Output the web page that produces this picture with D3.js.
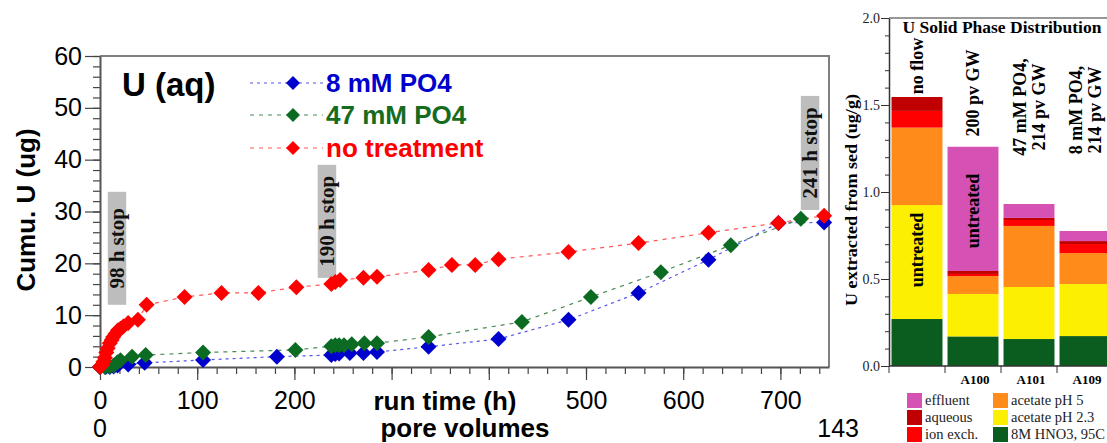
<!DOCTYPE html>
<html>
<head>
<meta charset="utf-8">
<script src="https://cdn.jsdelivr.net/npm/d3@7"></script>
<style>
  body { margin: 0; background: #fff; }
  svg { display: block; }
</style>
</head>
<body>
<div id="vis"></div>
<script>
// ---- left chart data: cumulative U (ug) vs run time (h)
var blueTime = [0, 6, 10, 14, 18, 29, 46, 106, 182, 238, 242, 246, 257, 271, 285, 338, 410, 482, 554, 626, 698, 745];
var blueU    = [0, 0, 0, 0.1, 0.3, 0.5, 0.8, 1.35, 2.0, 2.3, 2.5, 2.6, 2.7, 2.7, 2.9, 3.9, 5.4, 9.1, 14.3, 20.7, 27.8, 27.9];

var greenTime = [0, 5, 10, 14, 18, 21, 33, 47, 106, 201, 238, 242, 246, 251, 259, 272, 285, 338, 434, 505, 577, 649, 721];
var greenU    = [0, 0, 0.1, 0.3, 0.9, 1.3, 2.0, 2.3, 2.8, 3.3, 4.0, 4.2, 4.2, 4.2, 4.4, 4.6, 4.6, 5.8, 8.7, 13.5, 18.3, 23.5, 28.6];

var redTime = [0, 2, 3.5, 5, 6.5, 8, 10, 12, 13.5, 16, 18.5, 21, 24, 29, 39, 48, 87, 125, 163, 202, 238, 242, 247, 271, 285, 338, 362, 386, 410, 482, 554, 626, 698, 745];
var redU    = [0, 0.4, 1, 1.8, 2.8, 3.6, 4.6, 5.2, 5.8, 6.4, 7.1, 7.4, 7.8, 8.5, 9.1, 12.0, 13.5, 14.3, 14.3, 15.4, 16.0, 16.4, 16.8, 17.2, 17.4, 18.7, 19.7, 19.7, 20.8, 22.2, 23.9, 25.9, 27.8, 29.2];

var seriesNames = ["8 mM PO4", "47 mM PO4", "no treatment"];
var xTicks = [0, 100, 200, 300, 400, 500, 600, 700];
var yTicks = [0, 10, 20, 30, 40, 50, 60];

// stop annotations (h range, U range of grey box)
var stopLabels = ["98 h stop", "190 h stop", "241 h stop"];
var stopH = [[8, 27], [224, 243], [721, 740]];
var stopU = [[12, 33.8], [17.2, 39], [30.3, 52.3]];

// ---- right chart data: U solid phase distribution (ug/g)
var samples = ["no flow", "A100", "A101", "A109"];
var phases = ["8M HNO3, 95C", "acetate pH 2.3", "acetate pH 5", "ion exch.", "aqueous", "effluent"];
var hno3     = [0.27, 0.17, 0.155, 0.172];
var acet23   = [0.655, 0.244, 0.299, 0.299];
var acet5    = [0.445, 0.103, 0.351, 0.178];
var ionExch  = [0.096, 0.012, 0.034, 0.052];
var aqueous  = [0.08, 0.017, 0.012, 0.017];
var effluent = [0, 0.714, 0.08, 0.058];
var headers = [["no flow"], ["200 pv GW"], ["47 mM PO4,", "214 pv GW"], ["8 mM PO4,", "214 pv GW"]];
var catLabels = ["", "A100", "A101", "A109"];

var svg = d3.select("#vis").append("svg")
    .attr("width", 1107)
    .attr("height", 443);

var sans = "'Liberation Sans', Arial, sans-serif";
var serif = "'Liberation Serif', 'Times New Roman', serif";

// ================= left chart =================
var x = d3.scaleLinear().domain([0, 750]).range([100, 829]);
var y = d3.scaleLinear().domain([0, 60]).range([367, 56]);

// frame top/right
svg.append("path")
    .attr("d", "M100,56H829V367")
    .attr("fill", "none").attr("stroke", "#808080").attr("stroke-width", 2);

// y axis minor + major
svg.append("g").attr("transform", "translate(100,0)")
    .call(d3.axisLeft(y).tickValues(d3.range(0, 61, 2)).tickSize(7).tickFormat(""))
    .call(g => g.select(".domain").remove())
    .selectAll("line").attr("stroke", "#444").attr("stroke-width", 1.2);
var ya = svg.append("g").attr("transform", "translate(100,0)")
    .call(d3.axisLeft(y).tickValues(yTicks).tickSize(15).tickSizeOuter(0).tickPadding(3));
ya.select(".domain").attr("stroke", "#555").attr("stroke-width", 2);
ya.selectAll("line").attr("stroke", "#444").attr("stroke-width", 1.2);
ya.selectAll("text").attr("font-family", sans).attr("font-size", 25).attr("fill", "#000");

// x axis minor + major
svg.append("g").attr("transform", "translate(0,367)")
    .call(d3.axisBottom(x).tickValues(d3.range(0, 741, 20)).tickSize(7).tickFormat(""))
    .call(g => g.select(".domain").remove())
    .selectAll("line").attr("stroke", "#444").attr("stroke-width", 1.2);
var xa = svg.append("g").attr("transform", "translate(0,367)")
    .call(d3.axisBottom(x).tickValues(xTicks).tickSize(13).tickSizeOuter(0).tickPadding(11)
      .tickFormat(d => (d == 300 || d == 400) ? "" : d));
xa.select(".domain").attr("stroke", "#555").attr("stroke-width", 2);
xa.selectAll("line").attr("stroke", "#444").attr("stroke-width", 1.2);
xa.selectAll("text").attr("font-family", sans).attr("font-size", 25).attr("fill", "#000");

// axis titles
svg.append("text")
    .attr("transform", "translate(35,210) rotate(-90)")
    .attr("text-anchor", "middle")
    .attr("font-family", sans).attr("font-weight", "bold").attr("font-size", 26)
    .text("Cumu. U (ug)");
svg.append("text").attr("x", 445).attr("y", 410).attr("text-anchor", "middle")
    .attr("font-family", sans).attr("font-weight", "bold").attr("font-size", 26)
    .text("run time (h)");
svg.append("text").attr("x", 465).attr("y", 437).attr("text-anchor", "middle")
    .attr("font-family", sans).attr("font-weight", "bold").attr("font-size", 26)
    .text("pore volumes");
svg.append("text").attr("x", x(0)).attr("y", 437).attr("text-anchor", "middle")
    .attr("font-family", sans).attr("font-size", 25).text("0");
svg.append("text").attr("x", 859).attr("y", 437).attr("text-anchor", "end")
    .attr("font-family", sans).attr("font-size", 25).text("143");

svg.append("text").attr("x", 122).attr("y", 96)
    .attr("font-family", sans).attr("font-weight", "bold").attr("font-size", 33)
    .text("U (aq)");

// stop boxes
stopLabels.forEach(function(lab, i) {
  var x0 = x(stopH[i][0]), x1 = x(stopH[i][1]);
  var y0 = y(stopU[i][1]), y1 = y(stopU[i][0]);
  svg.append("rect").attr("x", x0).attr("y", y0)
      .attr("width", x1 - x0).attr("height", y1 - y0).attr("fill", "#bdbdbd");
  svg.append("text")
      .attr("transform", "translate(" + ((x0 + x1) / 2 + 7) + "," + ((y0 + y1) / 2) + ") rotate(-90)")
      .attr("text-anchor", "middle")
      .attr("font-family", serif).attr("font-weight", "bold").attr("font-size", 21)
      .attr("fill", "#111")
      .text(lab);
});

// series
var diamond = function(r) { return "M0," + (-r) + "L" + r + ",0L0," + r + "L" + (-r) + ",0Z"; };
var series = [
  {t: blueTime, u: blueU, fill: "#0000cc", line: "#5555ee", dash: "3,4"},
  {t: greenTime, u: greenU, fill: "#0b6b22", line: "#4a8a55", dash: "4,5"},
  {t: redTime, u: redU, fill: "#ff0000", line: "#ff5555", dash: "4,5"}
];
var line = d3.line().x(d => x(d[0])).y(d => y(d[1]));
series.forEach(function(s) {
  var pts = s.t.map((t, i) => [t, s.u[i]]);
  svg.append("path").datum(pts).attr("d", line)
      .attr("fill", "none").attr("stroke", s.line).attr("stroke-width", 1.2)
      .attr("stroke-dasharray", s.dash);
});
series.forEach(function(s) {
  var pts = s.t.map((t, i) => [t, s.u[i]]);
  svg.append("g").selectAll("path").data(pts).enter().append("path")
      .attr("transform", d => "translate(" + x(d[0]) + "," + y(d[1]) + ")")
      .attr("d", diamond(8))
      .attr("fill", s.fill);
});

// legend
var legY = [83, 115, 148];
var legText = ["#0000cc", "#156b1e", "#ff0000"];
seriesNames.forEach(function(n, i) {
  var s = series[i];
  svg.append("line").attr("x1", 250).attr("x2", 323).attr("y1", legY[i]).attr("y2", legY[i])
      .attr("stroke", s.line).attr("stroke-width", 1.2).attr("stroke-dasharray", s.dash);
  svg.append("path").attr("transform", "translate(293," + legY[i] + ")")
      .attr("d", diamond(7)).attr("fill", s.fill);
  svg.append("text").attr("x", 326).attr("y", legY[i] + 9)
      .attr("font-family", sans).attr("font-weight", "bold").attr("font-size", 26)
      .attr("fill", legText[i]).text(n);
});

// ================= right chart =================
var y2 = d3.scaleLinear().domain([0, 2]).range([366, 18]);
var xb = d3.scaleBand().domain(samples).range([889, 1113]).paddingInner(0.09).paddingOuter(0.045);
var colors = ["#0a5c1f", "#fcef00", "#ff8c1a", "#ff0000", "#c00000", "#d651b4"];

var rows = samples.map(function(s, i) {
  return {sample: s, "8M HNO3, 95C": hno3[i], "acetate pH 2.3": acet23[i], "acetate pH 5": acet5[i],
          "ion exch.": ionExch[i], "aqueous": aqueous[i], "effluent": effluent[i]};
});
var stacked = d3.stack().keys(phases)(rows);

stacked.forEach(function(layer, k) {
  svg.append("g").selectAll("rect").data(layer).enter().append("rect")
      .attr("x", d => xb(d.data.sample))
      .attr("width", xb.bandwidth())
      .attr("y", d => y2(d[1]))
      .attr("height", d => y2(d[0]) - y2(d[1]))
      .attr("fill", colors[k]);
});

svg.append("line").attr("x1", 889).attr("x2", 1107).attr("y1", 18).attr("y2", 18)
    .attr("stroke", "#333").attr("stroke-width", 1.2);

svg.append("g").attr("transform", "translate(889,0)")
    .call(d3.axisLeft(y2).tickValues(d3.range(0, 2.01, 0.1)).tickSize(4).tickFormat(""))
    .call(g => g.select(".domain").remove())
    .selectAll("line").attr("stroke", "#333");
var ya2 = svg.append("g").attr("transform", "translate(889,0)")
    .call(d3.axisLeft(y2).tickValues([0, 0.5, 1, 1.5, 2]).tickSize(8).tickSizeOuter(0).tickPadding(1)
      .tickFormat(d3.format(".1f")));
ya2.select(".domain").attr("stroke", "#333").attr("stroke-width", 1.5);
ya2.selectAll("line").attr("stroke", "#333");
ya2.selectAll("text").attr("font-family", serif).attr("font-size", 14).attr("fill", "#222");

// category axis
var xa2 = svg.append("g").attr("transform", "translate(0,366)");
xa2.append("line").attr("x1", 889).attr("x2", 1107).attr("stroke", "#333").attr("stroke-width", 1.5);
samples.forEach(function(s, i) {
  var gx = xb(s) - xb.step() * xb.paddingInner() / 2;
  xa2.append("line").attr("x1", gx).attr("x2", gx).attr("y1", 0).attr("y2", 7).attr("stroke", "#333");
  xa2.append("text").attr("x", xb(s) + xb.bandwidth() / 2 + 2).attr("y", 18)
      .attr("text-anchor", "middle").attr("font-family", serif).attr("font-weight", "bold")
      .attr("font-size", 13).text(catLabels[i]);
});

svg.append("text")
    .attr("transform", "translate(857,200) rotate(-90)")
    .attr("text-anchor", "middle")
    .attr("font-family", serif).attr("font-weight", "bold").attr("font-size", 16)
    .attr("textLength", 212).attr("lengthAdjust", "spacingAndGlyphs")
    .text("U extracted from sed (ug/g)");

svg.append("text").attr("x", 1002).attr("y", 33).attr("text-anchor", "middle")
    .attr("font-family", serif).attr("font-weight", "bold").attr("font-size", 17.5)
    .text("U Solid Phase Distribution");

// column headers
var headCy = [66, 93, 107, 110];
headers.forEach(function(lines, i) {
  var cx = xb(samples[i]) + xb.bandwidth() / 2;
  lines.forEach(function(t, j) {
    var off = (j - (lines.length - 1) / 2) * 19;
    svg.append("text")
        .attr("transform", "translate(" + (cx + off + 6) + "," + headCy[i] + ") rotate(-90)")
        .attr("text-anchor", "middle")
        .attr("font-family", serif).attr("font-weight", "bold").attr("font-size", 18)
        .text(t);
  });
});

// "untreated" labels
var untreatedCy = [250, 211];
untreatedCy.forEach(function(cy, i) {
  var cx = xb(samples[i]) + xb.bandwidth() / 2;
  svg.append("text")
      .attr("transform", "translate(" + (cx + 6) + "," + cy + ") rotate(-90)")
      .attr("text-anchor", "middle")
      .attr("font-family", serif).attr("font-weight", "bold").attr("font-size", 18)
      .text("untreated");
});

// legend
var legOrder = [5, 4, 3, 2, 1, 0];
legOrder.forEach(function(k, i) {
  var col = Math.floor(i / 3), row = i % 3;
  var lx = 907 + col * 86, ly = 393 + row * 17;
  svg.append("rect").attr("x", lx).attr("y", ly).attr("width", 15).attr("height", 15).attr("fill", colors[k]);
  svg.append("text").attr("x", lx + 18).attr("y", ly + 12)
      .attr("font-family", serif).attr("font-size", 14.5).attr("fill", "#222")
      .text(phases[k]);
});
</script>
</body>
</html>
